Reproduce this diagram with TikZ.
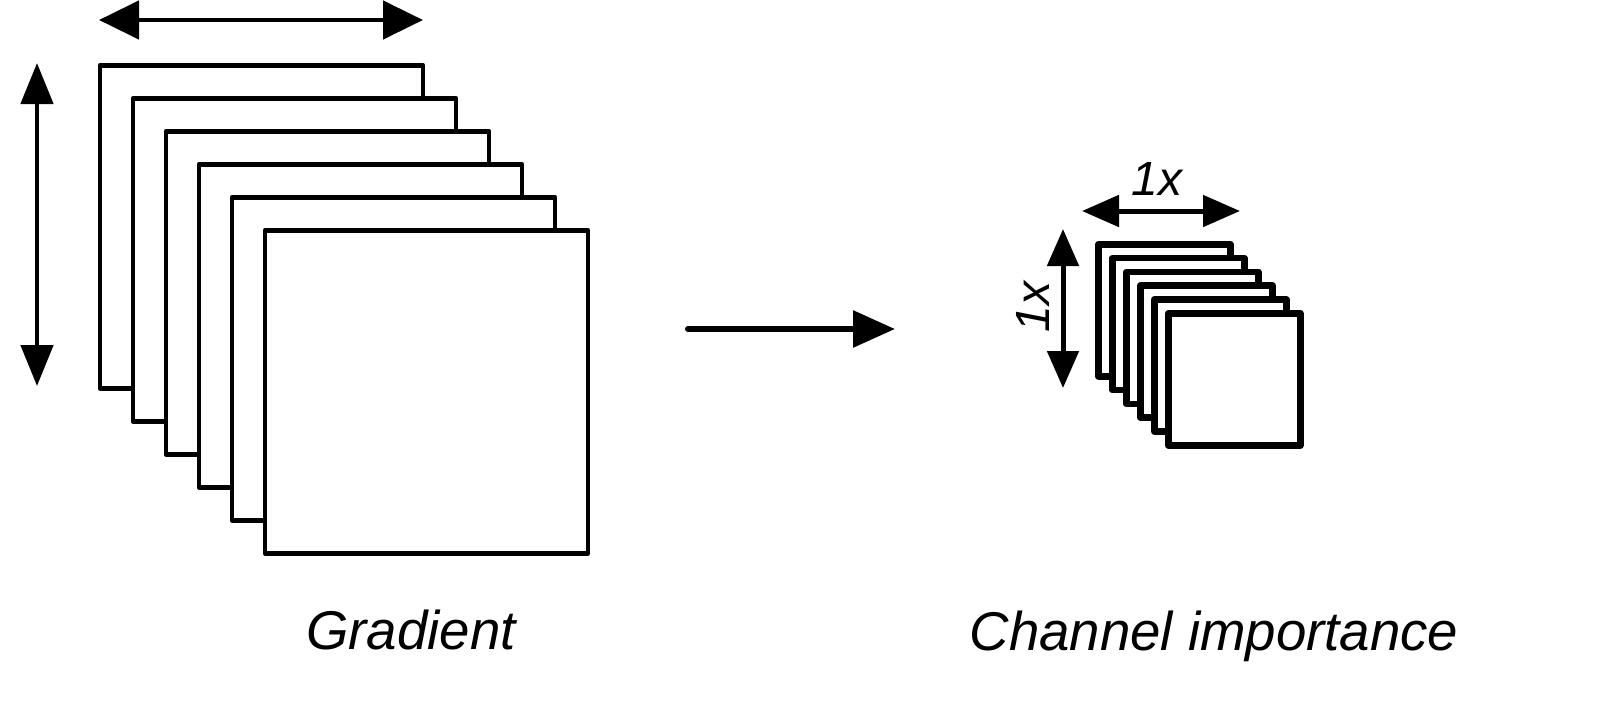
\documentclass[tikz,border=0pt]{standalone}
\usepackage{fontspec}
\setmainfont{Liberation Sans}
\usetikzlibrary{arrows.meta}
\begin{document}
\begin{tikzpicture}[x=0.5pt,y=-0.5pt,
  bigsheet/.style={draw=black, fill=white, line width=2.35pt, line join=round,
    minimum width=161.5pt, minimum height=161.5pt, inner sep=0pt, anchor=north west},
  smallsheet/.style={draw=black, fill=white, line width=3.3pt, line join=round,
    minimum width=66pt, minimum height=66pt, inner sep=0pt, anchor=north west},
  bigdimh/.style={line width=2.35pt, {Triangle[length=20pt,width=19pt]}-{Triangle[length=20pt,width=19pt]}},
  bigdimv/.style={line width=2.35pt, {Triangle[length=20.5pt,width=16pt]}-{Triangle[length=20.5pt,width=16pt]}},
  smalldim/.style={line width=2.5pt, {Triangle[length=18.5pt,width=15.5pt]}-{Triangle[length=18.5pt,width=15.5pt]}},
  mainarrow/.style={line width=3pt, line cap=round, -{Triangle[length=21pt,width=18pt]}},
  caption/.style={font=\fontsize{27.3}{30}\selectfont\itshape, anchor=base, inner sep=0pt},
  dimlabel/.style={font=\fontsize{24}{27}\selectfont\itshape, anchor=base, inner sep=0pt}
]
\useasboundingbox[fill=white] (0,0) rectangle (1600,712);

% Gradient stack
\foreach \i in {0,...,5} {
  \node[bigsheet] (g\i) at ({97.5+33*\i},{63+33*\i}) {};
}
\coordinate (ghl) at (99,20);
\coordinate (ghr) at (423,20);
\draw[bigdimh] (ghl) -- (ghr);
\coordinate (gvt) at (37,63);
\coordinate (gvb) at (37,386);
\draw[bigdimv] (gvt) -- (gvb);
\node[caption] (glabel) at (411,649) {Gradient};

% main arrow
\coordinate (ma) at (688,329);
\coordinate (mb) at (895,329);
\draw[mainarrow] (ma) -- (mb);

% Channel importance stack
\foreach \i in {0,...,5} {
  \node[smallsheet] (c\i) at ({1095+14*\i},{241+13.8*\i}) {};
}
\coordinate (chl) at (1082,211);
\coordinate (chr) at (1240,211);
\draw[smalldim] (chl) -- (chr);
\coordinate (cvt) at (1063,229);
\coordinate (cvb) at (1063,388);
\draw[smalldim] (cvt) -- (cvb);
\node[dimlabel] (ch1x) at (1157,195) {1x};
\node[dimlabel, rotate=90] (cv1x) at (1049,307) {1x};
\node[caption] (clabel) at (1214,650) {Channel importance};
\end{tikzpicture}
\end{document}
